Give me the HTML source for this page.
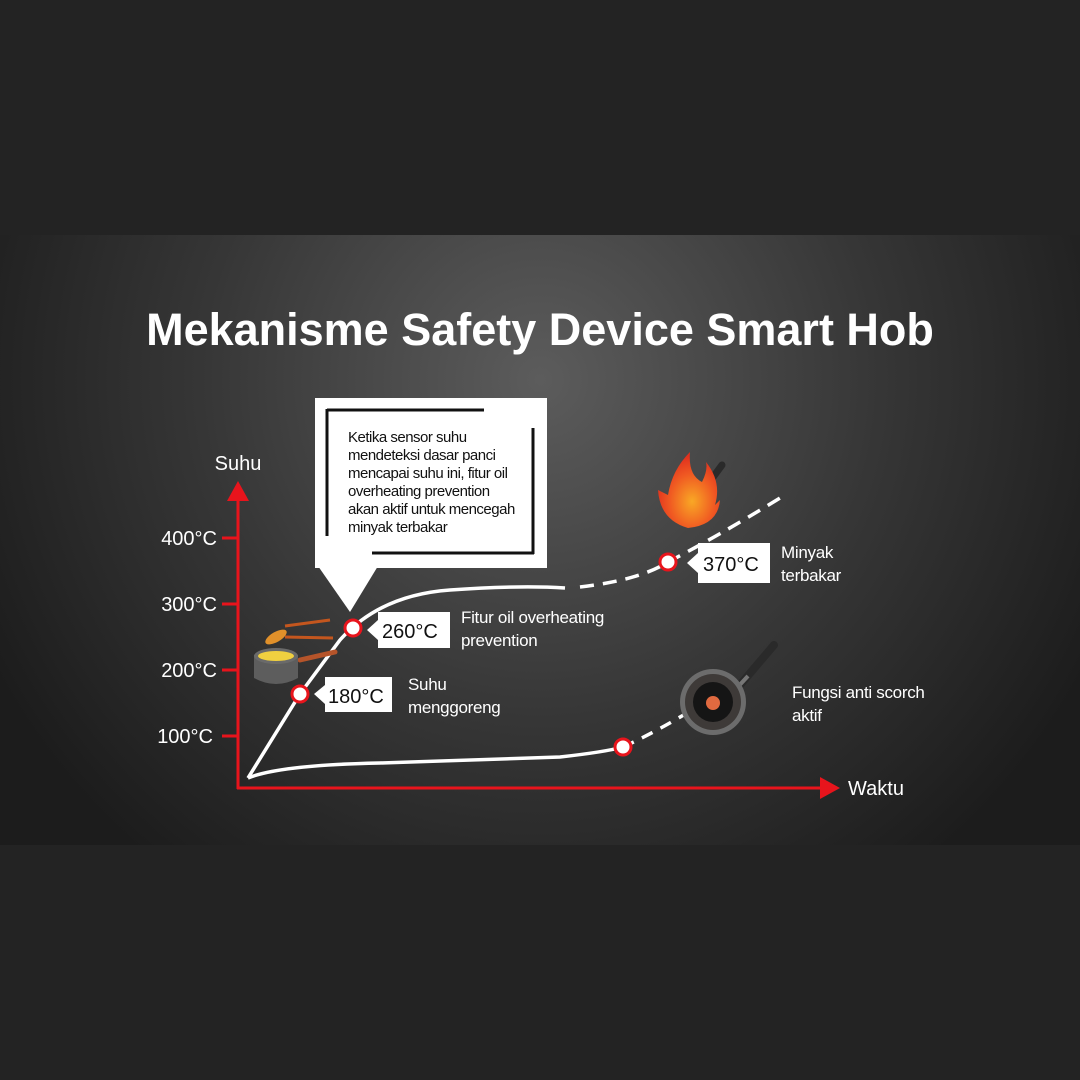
<!DOCTYPE html>
<html><head><meta charset="utf-8"><style>
html,body{margin:0;padding:0;background:#232323;}
svg{display:block;font-family:"Liberation Sans",sans-serif;}
</style></head><body>
<svg width="1080" height="1080" viewBox="0 0 1080 1080">
<defs>
<radialGradient id="bg" cx="540" cy="380" r="620" gradientUnits="userSpaceOnUse">
<stop offset="0" stop-color="#5c5c5c"/><stop offset="0.55" stop-color="#363636"/><stop offset="1" stop-color="#1c1c1c"/>
</radialGradient>
<radialGradient id="fire" cx="0.55" cy="0.65" r="0.6">
<stop offset="0" stop-color="#f9a825"/><stop offset="0.6" stop-color="#f05a22"/><stop offset="1" stop-color="#e0301e"/>
</radialGradient>
</defs>
<rect x="0" y="0" width="1080" height="1080" fill="#232323"/>
<rect x="0" y="235" width="1080" height="610" fill="url(#bg)"/>
<text x="540" y="345" text-anchor="middle" fill="#fff" font-size="45" font-weight="bold" letter-spacing="0">Mekanisme Safety Device Smart Hob</text>

<!-- axes -->
<g stroke="#e8141c" stroke-width="3" fill="none">
<line x1="238" y1="789" x2="238" y2="495"/>
<line x1="237" y1="788" x2="822" y2="788"/>
<line x1="222" y1="538" x2="238" y2="538"/><line x1="222" y1="604" x2="238" y2="604"/>
<line x1="222" y1="670" x2="238" y2="670"/><line x1="222" y1="736" x2="238" y2="736"/>
</g>
<polygon points="238,481 227,501 249,501" fill="#e8141c"/>
<polygon points="840,788 820,777 820,799" fill="#e8141c"/>
<g fill="#fff" font-size="20" text-anchor="end">
<text x="217" y="545">400°C</text><text x="217" y="611">300°C</text>
<text x="217" y="677">200°C</text><text x="213" y="743">100°C</text>
</g>
<text x="238" y="470" fill="#fff" font-size="20" text-anchor="middle">Suhu</text>
<text x="848" y="795" fill="#fff" font-size="20">Waktu</text>

<!-- curves -->
<g stroke="#fff" stroke-width="3.5" fill="none">
<path d="M248,778 L300,694 L340,640 Q380,595 450,590 Q520,585 565,588"/>
<path d="M580,587 Q640,580 668,562 Q720,535 780,498" stroke-dasharray="14,9"/>
<path d="M248,778 Q280,765 380,763 L560,757 Q605,752 623,747"/>
<path d="M623,747 Q660,730 700,705" stroke-dasharray="12,9"/>
</g>

<!-- callout -->
<rect x="315" y="398" width="232" height="170" fill="#fff"/>
<polygon points="318,566 378,566 350,612" fill="#fff"/>
<g stroke="#111" stroke-width="3" fill="none">
<line x1="327" y1="410" x2="484" y2="410"/><line x1="327" y1="409" x2="327" y2="536"/>
<line x1="533" y1="428" x2="533" y2="554"/><line x1="372" y1="553" x2="534" y2="553"/>
</g>
<g fill="#111" font-size="15" letter-spacing="-0.5">
<text x="348" y="442">Ketika sensor suhu</text>
<text x="348" y="460">mendeteksi dasar panci</text>
<text x="348" y="478">mencapai suhu ini, fitur oil</text>
<text x="348" y="496">overheating prevention</text>
<text x="348" y="514">akan aktif untuk mencegah</text>
<text x="348" y="532">minyak terbakar</text>
</g>

<!-- labels -->
<polygon points="378,612 450,612 450,648 378,648 378,640 367,630 378,620" fill="#fff"/>
<text x="382" y="638" font-size="20" fill="#111">260°C</text>
<polygon points="325,677 392,677 392,712 325,712 325,704 314,694 325,685" fill="#fff"/>
<text x="328" y="703" font-size="20" fill="#111">180°C</text>
<polygon points="698,543 770,543 770,583 698,583 698,573 687,563 698,553" fill="#fff"/>
<text x="703" y="571" font-size="20" fill="#111">370°C</text>
<g fill="#fff" font-size="17" letter-spacing="-0.3">
<text x="461" y="623">Fitur oil overheating</text><text x="461" y="646">prevention</text>
<text x="408" y="690">Suhu</text><text x="408" y="713">menggoreng</text>
<text x="781" y="558">Minyak</text><text x="781" y="581">terbakar</text>
<text x="792" y="698">Fungsi anti scorch</text><text x="792" y="721">aktif</text>
</g>

<!-- points -->
<g fill="#fff" stroke="#e8141c" stroke-width="3">
<circle cx="353" cy="628" r="8"/><circle cx="300" cy="694" r="8"/>
<circle cx="668" cy="562" r="8"/><circle cx="623" cy="747" r="8"/>
</g>

<!-- pot icon -->
<g>
<line x1="300" y1="660" x2="335" y2="652" stroke="#b5542a" stroke-width="5" stroke-linecap="round"/>
<path d="M254,655 L254,678 Q276,690 298,678 L298,655 Z" fill="#5d5d5d"/>
<ellipse cx="276" cy="656" rx="22" ry="8" fill="#6a6a6a"/>
<ellipse cx="276" cy="656" rx="18" ry="5" fill="#f0d040"/>
<line x1="285" y1="626" x2="330" y2="620" stroke="#c4561e" stroke-width="3"/>
<line x1="285" y1="637" x2="333" y2="638" stroke="#c4561e" stroke-width="3"/>
<ellipse cx="276" cy="637" rx="12" ry="5" fill="#e0902a" transform="rotate(-30 276 637)"/>
</g>

<!-- fire -->
<line x1="700" y1="495" x2="722" y2="465" stroke="#2a2a2a" stroke-width="7" stroke-linecap="round"/>
<path d="M688,528 Q660,520 658,490 L668,495 Q672,470 690,452 Q688,475 702,482 Q708,470 706,462 Q722,482 715,505 L720,500 Q718,525 688,528 Z" fill="url(#fire)"/>

<!-- pan -->
<line x1="740" y1="685" x2="774" y2="645" stroke="#2a2a2a" stroke-width="8" stroke-linecap="round"/>
<line x1="735" y1="690" x2="748" y2="676" stroke="#777" stroke-width="4"/>
<circle cx="713" cy="702" r="33" fill="#6c6c6c"/>
<circle cx="713" cy="702" r="28" fill="#3e3a38"/>
<circle cx="713" cy="702" r="20" fill="#151515"/>
<circle cx="713" cy="703" r="7" fill="#e06a40"/>
</svg>
</body></html>
